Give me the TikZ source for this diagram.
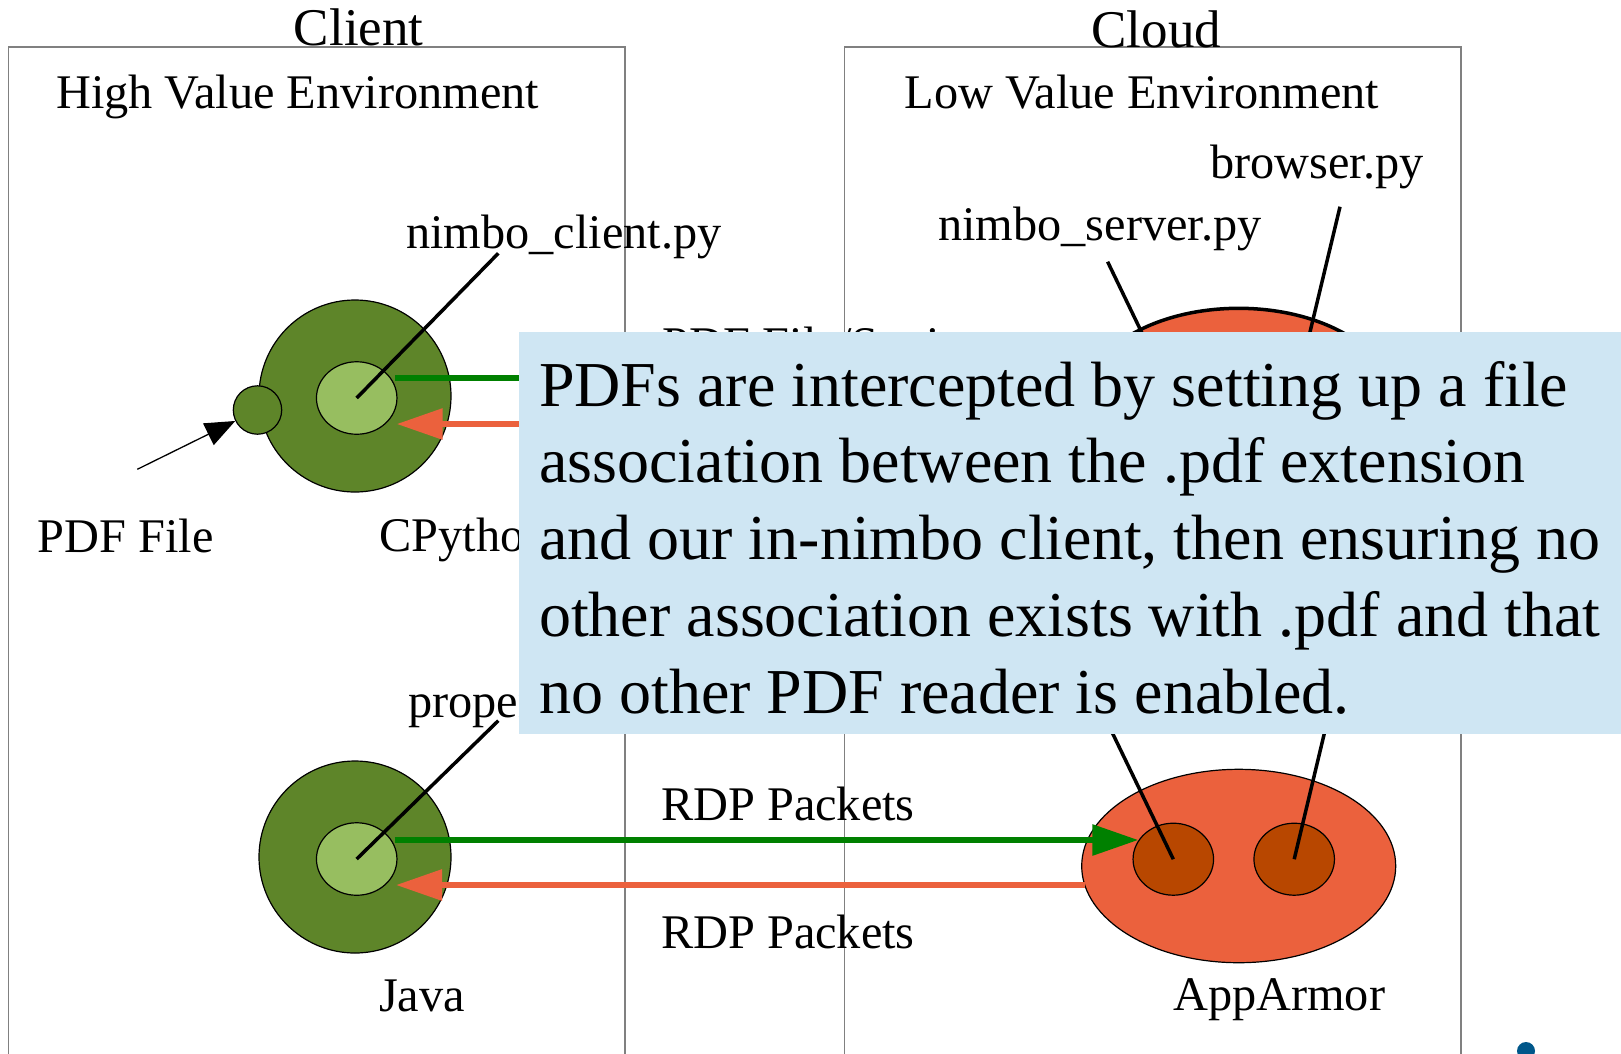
\documentclass[tikz,border=0pt]{standalone}
\usepackage{fontspec}
\setmainfont{Liberation Serif}
\usetikzlibrary{shapes.geometric,arrows.meta}
\definecolor{envgray}{HTML}{808080}
\definecolor{clientgreen}{HTML}{5E8529}
\definecolor{procgreen}{HTML}{97BE60}
\definecolor{cloudorange}{HTML}{EB613D}
\definecolor{procorange}{HTML}{B84700}
\definecolor{flowgreen}{HTML}{008000}
\definecolor{notefill}{HTML}{CFE6F3}
\definecolor{dotblue}{HTML}{00578A}
\begin{document}
\begin{tikzpicture}[x=1pt,y=-1pt,
  envbox/.style={draw=envgray,line width=1.6pt},
  headtext/.style={font=\fontsize{53}{60}\selectfont,anchor=base,inner sep=0},
  lbl/.style={font=\fontsize{48.3}{58}\selectfont,anchor=base west,inner sep=0},
  blob/.style={ellipse,draw=black,line width=1.2pt,inner sep=0},
  outerg/.style={blob,fill=clientgreen,minimum width=192pt,minimum height=192pt},
  innerg/.style={blob,fill=procgreen,minimum width=80.5pt,minimum height=72.5pt},
  outero/.style={blob,fill=cloudorange,minimum width=314pt,minimum height=193.4pt},
  innero/.style={blob,fill=procorange,minimum width=80.5pt,minimum height=72pt},
  leader/.style={draw=black,line width=3.5pt},
  toserver/.style={draw=flowgreen,line width=6pt,-{Triangle[length=46pt,width=30pt]}},
  toclient/.style={draw=cloudorange,line width=6pt,-{Triangle[length=46pt,width=30pt]}},
  fileptr/.style={draw=black,line width=1.3pt,-{Triangle[length=30pt,width=24pt]}}]

\useasboundingbox (0,0) rectangle (1621,1053);
\clip (0,0) rectangle (1621,1053);
\fill[white] (0,0) rectangle (1621,1053);

% environment boxes
\draw[envbox] (8.3,46.7) rectangle (624.8,1070);
\draw[envbox] (844.5,46.7) rectangle (1461,1070);
\node[headtext] (client) at (358.7,45) {Client};
\node[headtext] (cloud) at (1156.4,47.5) {Cloud};
\node[lbl] (hve) at (56,108.7) {High Value Environment};
\node[lbl] (lve) at (904.3,108.7) {Low Value Environment};

% client side processes
\node[outerg] (cpy) at (355,396) {};
\node[blob,fill=clientgreen,minimum width=48.4pt,minimum height=48.4pt] (pdf) at (257.5,410) {};
\node[innerg] (cpyin) at (356.7,398) {};
\node[outerg] (java) at (355,857) {};
\node[innerg] (javain) at (356.7,859) {};

% cloud side processes
\node[outero,line width=3.5pt] (srvtop) at (1238.7,405) {};
\node[innero] (nstop) at (1173.3,398) {};
\node[innero] (brtop) at (1294.2,398) {};
\node[outero] (aa) at (1238.7,866) {};
\node[innero] (ns) at (1173.3,859.2) {};
\node[innero] (br) at (1294.2,859.2) {};

% labels
\node[lbl] (pdflbl) at (37.5,552) {PDF File};
\node[lbl] (cpylbl) at (379.5,551) {CPython};
\node[lbl] (ncl) at (406,248.7) {nimbo\_client.py};
\node[lbl] (nsv) at (938,240.3) {nimbo\_server.py};
\node[lbl] (bpy) at (1210,178.7) {browser.py};
\node[lbl] (proplbl) at (408,717) {proper};
\node[lbl] (javalbl) at (379,1011.5) {Java};
\node[lbl] (aalbl) at (1173,1010) {AppArmor};
\node[lbl] (pfs) at (662,360) {PDF File/Settings};
\node[lbl] (rdp1) at (661,820.3) {RDP Packets};
\node[lbl] (rdp2) at (661,948.7) {RDP Packets};

% leader lines from labels to processes
\coordinate (nclend) at (498.3,253.3);
\coordinate (propend) at (498.3,720.7);
\coordinate (nsvend) at (1107.6,261.7);
\coordinate (bpyend) at (1340,206.7);
\coordinate (nslow) at (1096.5,700);
\coordinate (brlow) at (1332.3,700);
\draw[leader] (cpyin.center) -- (nclend);
\draw[leader] (javain.center) -- (propend);
\draw[leader] (nstop.center) -- (nsvend);
\draw[leader] (brtop.center) -- (bpyend);
\draw[leader] (ns.center) -- (nslow);
\draw[leader] (br.center) -- (brlow);

% PDF file input
\coordinate (pdfsrc) at (137.3,469.3);
\draw[fileptr] (pdfsrc) -- (pdf);

% traffic between client and cloud
\coordinate (gt0) at (395,378.3);
\coordinate (gt1) at (1138.3,378.3);
\coordinate (rt0) at (1085,424);
\coordinate (rt1) at (396.7,424);
\coordinate (gb0) at (394.7,840);
\coordinate (gb1) at (1138.3,840);
\coordinate (rb0) at (1085,885);
\coordinate (rb1) at (396,885);
\draw[toserver] (gt0) -- (gt1);
\draw[toclient] (rt0) -- (rt1);
\draw[toserver] (gb0) -- (gb1);
\draw[toclient] (rb0) -- (rb1);

% note
\node[fill=notefill,anchor=north west,minimum width=1110pt,minimum height=401.8pt,inner sep=0] (note) at (519,331.7) {};
\node[anchor=base west,inner sep=0,font=\fontsize{64}{76.8}\selectfont] (notetext) at (539,406)
  {\parbox[t]{1080pt}{\raggedright PDFs are intercepted by setting up a file\\
  association between the .pdf extension\\
  and our in-nimbo client, then ensuring no\\
  other association exists with .pdf and that\\
  no other PDF reader is enabled.}};

\fill[dotblue] (1526,1051) circle[radius=9pt];
\end{tikzpicture}
\end{document}
